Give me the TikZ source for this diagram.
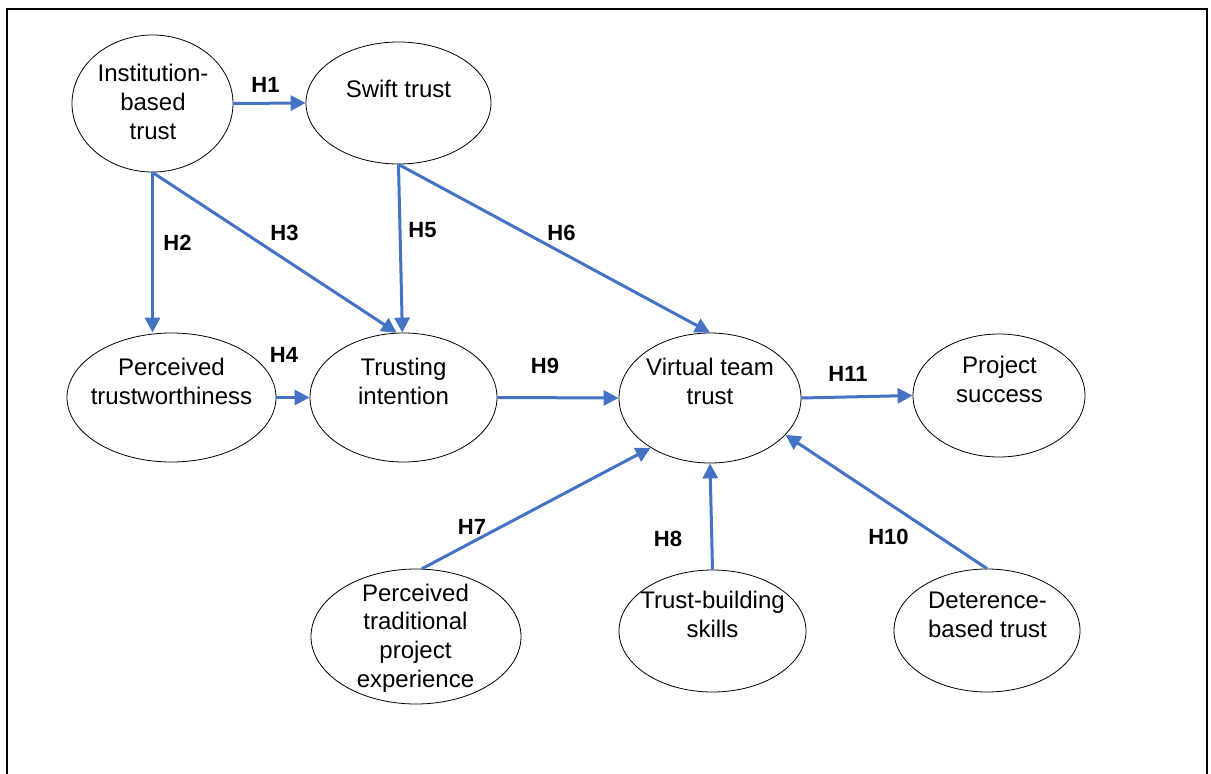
\documentclass[tikz,border=0pt]{standalone}
\usepackage{fontspec}
\setmainfont{Liberation Sans}
\usetikzlibrary{arrows.meta,shapes.geometric}
\definecolor{arrowblue}{RGB}{68,114,196}
\begin{document}
\begin{tikzpicture}[x=1pt,y=-1pt,
  ell/.style={draw=black, line width=0.8pt, ellipse, inner sep=0pt},
  txt/.style={font=\fontsize{24}{28.6}\selectfont, align=center, anchor=base, inner sep=0pt},
  hlab/.style={font=\fontsize{22}{26}\selectfont\bfseries, inner sep=0pt},
  arr/.style={draw=arrowblue, line width=3pt, -{Triangle[length=15pt,width=15pt]}}
]
\useasboundingbox (0,0) rectangle (1211,774);
\draw[line width=2pt] (7,780) -- (7,9) -- (1207,9) -- (1207,780);

% ellipses
\node[ell, minimum width=161pt, minimum height=137pt] (ibt) at (152.5,103.5) {};
\node[ell, minimum width=185pt, minimum height=122pt] (swift) at (398.5,103) {};
\node[ell, minimum width=209pt, minimum height=129pt] (ptw) at (171.5,397.5) {};
\node[ell, minimum width=187pt, minimum height=129pt] (ti) at (403.5,397.5) {};
\node[ell, minimum width=182pt, minimum height=130pt] (vtt) at (710,398) {};
\node[ell, minimum width=172pt, minimum height=123pt] (ps) at (999,395.5) {};
\node[ell, minimum width=210pt, minimum height=135pt] (ptpe) at (416,636.5) {};
\node[ell, minimum width=187pt, minimum height=122pt] (tbs) at (712.5,631) {};
\node[ell, minimum width=186pt, minimum height=123pt] (dbt) at (987,630.5) {};

% texts (anchored at the baseline of the last line)
\node[txt] (ibtT) at (153,139) {Institution-\\based\\trust};
\node[txt] (swiftT) at (398.5,97) {Swift trust};
\node[txt] (ptwT) at (171.5,404) {Perceived\\trustworthiness};
\node[txt] (tiT) at (403.5,404) {Trusting\\intention};
\node[txt] (vttT) at (710,404) {Virtual team\\trust};
\node[txt] (psT) at (999.5,402) {Project\\success};
\node[txt] (ptpeT) at (415.5,687) {Perceived\\traditional\\project\\experience};
\node[txt] (tbsT) at (712.5,637) {Trust-building\\skills};
\node[txt] (dbtT) at (987.5,637) {Deterence-\\based trust};

% arrows
\draw[arr] (ibt.east) -- (swift.west);
\draw[arr] (ibt.south) -- (ibt.south |- ptw.north);
\draw[arr] (ibt.south) -- (ti.96);
\draw[arr] (swift.south) -- (ti.91);
\draw[arr] (swift.south) -- (vtt.north);
\draw[arr] (ptw.east) -- (ti.west);
\draw[arr] (ti.east) -- (vtt.west);
\draw[arr] (vtt.east) -- (ps.west);
\draw[arr] (ptpe.85) -- (vtt.220);
\draw[arr] (tbs.north) -- (vtt.south);
\draw[arr] (dbt.north) -- (vtt.334);

% labels
\node[hlab] (h1) at (265.5,84.5) {H1};
\node[hlab] (h2) at (177.5,242.5) {H2};
\node[hlab] (h3) at (284.5,232.5) {H3};
\node[hlab] (h4) at (284,355) {H4};
\node[hlab] (h5) at (422.5,230.5) {H5};
\node[hlab] (h6) at (561.5,232.5) {H6};
\node[hlab] (h7) at (472,526.5) {H7};
\node[hlab] (h8) at (668,538.5) {H8};
\node[hlab] (h9) at (545,366) {H9};
\node[hlab] (h10) at (888.5,536.5) {H10};
\node[hlab] (h11) at (848,373.5) {H11};
\end{tikzpicture}
\end{document}
